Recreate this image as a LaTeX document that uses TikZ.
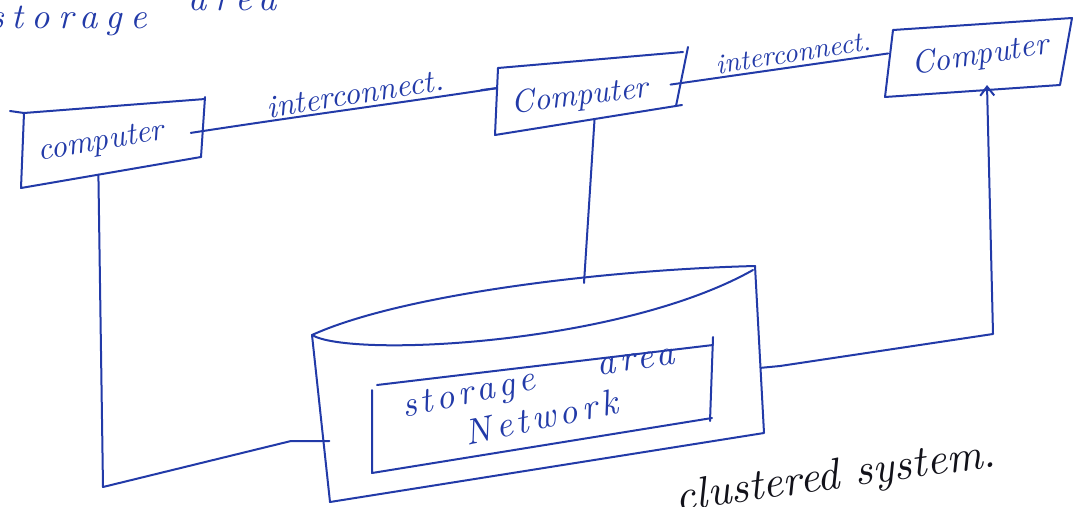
\documentclass[tikz,border=0pt]{standalone}
\usepackage{fontspec}
\usetikzlibrary{arrows.meta,calc}
\newfontfamily\handfont{lmroman10-italic.otf}
\newfontfamily\widehand{lmroman10-italic.otf}[LetterSpace=12]
\newfontfamily\widerhand{lmroman10-italic.otf}[LetterSpace=22]
\definecolor{inkblue}{RGB}{34,58,168}
\definecolor{pencil}{RGB}{18,18,26}
\begin{document}
\begin{tikzpicture}[x=1pt,y=-1pt,
  pen/.style={draw=inkblue,line width=2pt,line cap=round,line join=round},
  label/.style={text=inkblue,inner sep=0pt,font=\handfont\fontsize{32}{32}\selectfont},
  widelabel/.style={text=inkblue,inner sep=0pt,font=\widehand\fontsize{36}{36}\selectfont},
  headlabel/.style={text=inkblue,inner sep=0pt,font=\widerhand\fontsize{36}{36}\selectfont},
  caption/.style={text=pencil,inner sep=0pt,font=\handfont\fontsize{44}{44}\selectfont}]
\useasboundingbox (0,0) rectangle (1075,506);
\clip (0,0) rectangle (1075,506);

% heading left over from the line above
\node[headlabel,anchor=base east] (headA) at (147,28) {storage};
\node[headlabel,anchor=base west] (headB) at (188,10) {area};

% three computers
\draw[pen] (10,111) -- (24,113) coordinate (c1tl) -- (205,99) coordinate (c1tr);
\draw[pen] (205,97) -- (201,157) coordinate (c1br);
\draw[pen] (c1br) -- (21,188) coordinate (c1bl) -- (c1tl);
\path (c1bl) -- (c1br) coordinate[pos=0.43] (c1s);
\path (c1tr) -- (c1br) coordinate[pos=0.55] (c1r);
\node[label,rotate=10] (comp1) at (101,143) {computer};

\draw[pen] (498,68) coordinate (c2tl) -- (683,52);
\draw[pen] (688,47) -- (676,106) coordinate (c2br);
\draw[pen] (682,105) -- (495,135) coordinate (c2bl) -- (c2tl);
\path (c2tl) -- (c2bl) coordinate[pos=0.3] (c2l);
\path (c2bl) -- (c2br) coordinate[pos=0.55] (c2s);
\path (688,47) -- (c2br) coordinate[pos=0.62] (c2r);
\node[label,rotate=7] (comp2) at (580,97) {Computer};

\draw[pen] (893,30) coordinate (c3tl) -- (1072,18) -- (1060,85) coordinate (c3br)
  -- (885,97) coordinate (c3bl) -- cycle;
\path (c3tl) -- (c3bl) coordinate[pos=0.35] (c3l);
\coordinate (c3s) at (987,85);
\node[label,rotate=9] (comp3) at (980,56) {Computer};

% interconnects between the computers
\draw[pen] ($(c1r)+(-12,2)$) .. controls (300,116) and (420,100) .. (c2l);
\draw[pen] ($(c2l)+(-16,2)$) -- (c2l);
\node[label,rotate=9] (link1) at (355,94) {interconnect.};
\draw[pen] ($(c2r)+(-10,1)$) -- ($(c3l)+(-2,0)$);
\node[label,rotate=9,font=\handfont\fontsize{28}{28}\selectfont] (link2) at (793,53) {interconnect.};

% storage cylinder
\coordinate (cyltl) at (312,335);
\coordinate (cyltr) at (755,266);
\coordinate (cylbr) at (764,433);
\coordinate (cylbl) at (330,502);
\draw[pen] (cyltl) .. controls (400,295) and (600,270) .. (cyltr);
\draw[pen] (cyltl) .. controls (350,358) and (620,345) .. (753,270);
\draw[pen] (cyltr) -- (cylbr) -- (cylbl) -- (cyltl);
\coordinate (cyltop) at (584,283);
\path (cyltl) -- (cylbl) coordinate[pos=0.635] (cylL);
\path (cyltr) -- (cylbr) coordinate[pos=0.61] (cylR);

% storage area network box
\draw[pen] (377,385) -- (713,345);
\draw[pen] (713,337) -- (710,421) coordinate (sbr);
\draw[pen] (712,418) -- (372,473) -- (372,390);
\node[widelabel,rotate=12] (san1) at (469,396) {storage};
\node[widelabel,rotate=8] (san2) at (636,362) {area};
\node[widelabel,rotate=12] (san3) at (541,417) {Network};

% links from the computers to the storage network
\draw[pen] (c1s) -- (103,487) coordinate (lbend) -- (291,441) coordinate (lstub);
\draw[pen] (lstub) -- ($(cylL)+(6,0)$);
\draw[pen] (c2s) -- (cyltop);
\draw[pen,-{Straight Barb[length=9pt,width=14pt,line width=2pt]}]
  (cylR) -- (780,366) -- (993,334) coordinate (rbend) -- (c3s);

% caption
\node[caption,rotate=8] (cap) at (836,478) {clustered system.};
\end{tikzpicture}
\end{document}
